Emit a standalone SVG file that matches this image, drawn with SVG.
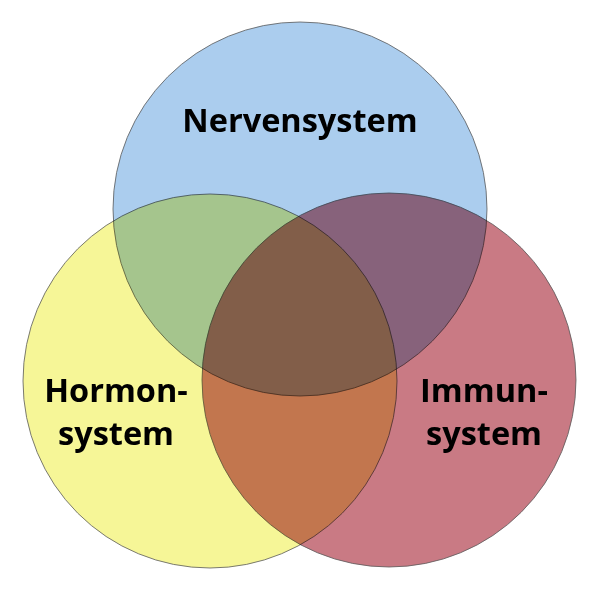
<svg xmlns="http://www.w3.org/2000/svg" width="600" height="600" viewBox="0 0 600 600">
<style>
.c{stroke:#5a5a5a;stroke-width:1;stroke-opacity:0.8;mix-blend-mode:multiply}
.t{font-family:"Open Sans","DejaVu Sans",sans-serif;font-weight:bold;font-size:32.5px;fill:#000;text-anchor:middle}
</style>
<rect width="600" height="600" fill="#fff"/>
<g style="isolation:isolate">
<g id="nerven"><circle class="c" cx="300" cy="209" r="187" fill="#abcdee"/></g>
<g id="hormon"><circle class="c" cx="210" cy="381" r="187" fill="#f6f697"/></g>
<g id="immun"><circle class="c" cx="389" cy="380" r="187" fill="#c97a84"/></g>
</g>
<g id="labels">
<text class="t" x="300" y="132">Nervensystem</text>
<text class="t" x="116" y="402">Hormon-</text>
<text class="t" x="116" y="445">system</text>
<text class="t" x="484" y="402">Immun-</text>
<text class="t" x="484" y="445">system</text>
</g>
</svg>
